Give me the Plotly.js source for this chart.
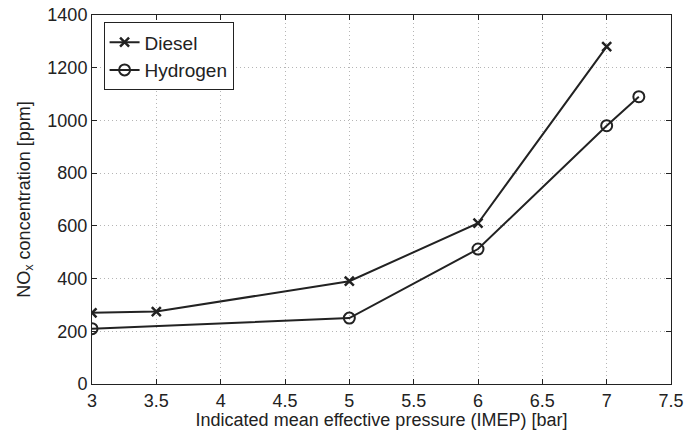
<!DOCTYPE html>
<html><head><meta charset="utf-8">
<script src="https://cdn.plot.ly/plotly-3.0.1.min.js"></script>
<style>html,body{margin:0;padding:0;background:#fff}#chart{width:685px;height:430px}</style>
</head><body><div id="chart"></div>
<script>
const dieselX = [3, 3.5, 5, 6, 7];
const dieselY = [270, 275, 390, 610, 1280];
const hydrogenX = [3, 5, 6, 7, 7.25];
const hydrogenY = [210, 250, 512, 980, 1090];
const xTicks = [3, 3.5, 4, 4.5, 5, 5.5, 6, 6.5, 7, 7.5];
const yTicks = [0, 200, 400, 600, 800, 1000, 1200, 1400];

const font = {family: 'Liberation Sans, Arial, sans-serif', size: 18, color: '#222'};
const traces = [
  {x: dieselX, y: dieselY, name: 'Diesel', mode: 'lines+markers', type: 'scatter',
   line: {color: '#222', width: 2},
   marker: {symbol: 'x-thin-open', size: 9, color: '#222', line: {color: '#222', width: 2.5}}},
  {x: hydrogenX, y: hydrogenY, name: 'Hydrogen', mode: 'lines+markers', type: 'scatter',
   line: {color: '#222', width: 2},
   marker: {symbol: 'circle-open', size: 11, color: '#222', line: {color: '#222', width: 2}}}
];
const axisCommon = {
  showline: true, linecolor: '#222', linewidth: 1, mirror: 'ticks',
  ticks: 'inside', ticklen: 5, tickcolor: '#222',
  showgrid: true, gridcolor: '#b5b5b5', griddash: '1px,3px', gridwidth: 1,
  zeroline: false, tickfont: font
};
const layout = {
  width: 685, height: 430,
  margin: {l: 92, r: 14, t: 15, b: 46},
  paper_bgcolor: '#fff', plot_bgcolor: '#fff',
  font: font,
  showlegend: true,
  legend: {x: 0.02, y: 0.98, xanchor: 'left', yanchor: 'top',
           bordercolor: '#222', borderwidth: 1, bgcolor: '#fff',
           font: {family: font.family, size: 19, color: '#222'}, tracegroupgap: 0},
  xaxis: Object.assign({}, axisCommon, {range: [3, 7.5], tickvals: xTicks,
    ticktext: xTicks.map(String),
    title: {text: 'Indicated mean effective pressure (IMEP) [bar]', font: font, standoff: 0}}),
  yaxis: Object.assign({}, axisCommon, {range: [0, 1400], tickvals: yTicks,
    title: {text: 'NO<sub>x</sub> concentration [ppm]', font: font, standoff: 12}})
};
Plotly.newPlot('chart', traces, layout, {displayModeBar: false, staticPlot: true});
</script></body></html>
